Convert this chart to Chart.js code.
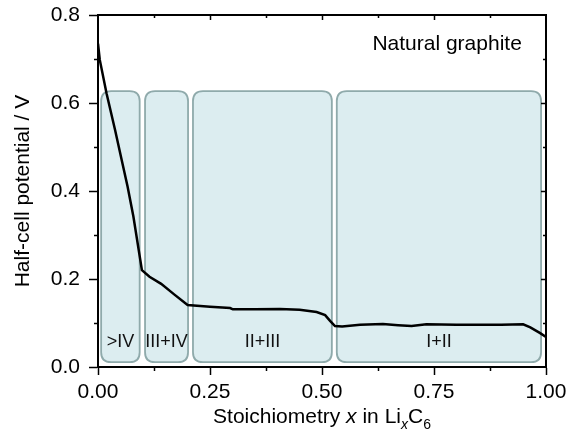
<!DOCTYPE html>
<html>
<head>
<meta charset="utf-8">
<script src="https://cdn.jsdelivr.net/npm/chart.js@4"></script>
<style>
  html, body { margin: 0; padding: 0; background: #ffffff; }
  #wrap { width: 568px; height: 433px; position: relative; }
</style>
</head>
<body>
<div id="wrap"><canvas id="c" width="568" height="433"></canvas></div>
<script>
// ---- data ----
const stoichX = [0, 0.004, 0.019, 0.038, 0.053, 0.066, 0.079, 0.098, 0.115, 0.141, 0.17, 0.2, 0.25, 0.295, 0.301, 0.35, 0.406, 0.45, 0.488, 0.507, 0.518, 0.529, 0.545, 0.585, 0.636, 0.67, 0.7, 0.733, 0.8, 0.85, 0.9, 0.949, 0.965, 0.987, 1.0];
const potentialV = [0.735, 0.698, 0.622, 0.539, 0.47, 0.41, 0.342, 0.22, 0.205, 0.189, 0.165, 0.141, 0.137, 0.134, 0.131, 0.131, 0.132, 0.130, 0.125, 0.118, 0.105, 0.093, 0.092, 0.096, 0.098, 0.095, 0.093, 0.097, 0.096, 0.096, 0.096, 0.097, 0.090, 0.077, 0.068];

const regionLabels = [">IV", "III+IV", "II+III", "I+II"];
const regionStart = [0.007, 0.105, 0.212, 0.533];
const regionEnd = [0.093, 0.201, 0.522, 0.989];
const regionTop = 0.627;
const regionBottom = 0.011;
const regionLabelY = 0.056;

const xTicks = [0, 0.25, 0.5, 0.75, 1.0];
const xMinorTicks = [0.125, 0.375, 0.625, 0.875];
const yTicks = [0, 0.2, 0.4, 0.6, 0.8];
const yMinorTicks = [0.1, 0.3, 0.5, 0.7];

const annotationText = "Natural graphite";
const annotationX = 0.946;
const annotationY = 0.72;

const FONT = '"Liberation Sans", Arial, Helvetica, sans-serif';

function roundRect(ctx, x, y, w, h, r) {
  ctx.beginPath();
  ctx.moveTo(x + r, y);
  ctx.lineTo(x + w - r, y);
  ctx.quadraticCurveTo(x + w, y, x + w, y + r);
  ctx.lineTo(x + w, y + h - r);
  ctx.quadraticCurveTo(x + w, y + h, x + w - r, y + h);
  ctx.lineTo(x + r, y + h);
  ctx.quadraticCurveTo(x, y + h, x, y + h - r);
  ctx.lineTo(x, y + r);
  ctx.quadraticCurveTo(x, y, x + r, y);
  ctx.closePath();
}

const decorPlugin = {
  id: 'decor',
  beforeDatasetsDraw(chart) {
    const ctx = chart.ctx;
    const xs = chart.scales.x, ys = chart.scales.y;
    ctx.save();
    for (let i = 0; i < regionLabels.length; i++) {
      const x0 = xs.getPixelForValue(regionStart[i]);
      const x1 = xs.getPixelForValue(regionEnd[i]);
      const y0 = ys.getPixelForValue(regionTop);
      const y1 = ys.getPixelForValue(regionBottom);
      roundRect(ctx, x0, y0, x1 - x0, y1 - y0, 10);
      ctx.fillStyle = '#dcedf0';
      ctx.fill();
      ctx.lineWidth = 1.8;
      ctx.strokeStyle = '#8faaab';
      ctx.stroke();
      ctx.fillStyle = '#111111';
      ctx.font = '18px ' + FONT;
      ctx.textAlign = 'center';
      ctx.textBaseline = 'middle';
      ctx.fillText(regionLabels[i], (x0 + x1) / 2, ys.getPixelForValue(regionLabelY));
    }
    ctx.fillStyle = '#000000';
    ctx.font = '21px ' + FONT;
    ctx.textAlign = 'right';
    ctx.textBaseline = 'alphabetic';
    ctx.fillText(annotationText, xs.getPixelForValue(annotationX), ys.getPixelForValue(annotationY));
    ctx.restore();
  },
  afterDraw(chart) {
    const ctx = chart.ctx;
    const xs = chart.scales.x, ys = chart.scales.y;
    const a = chart.chartArea;
    ctx.save();
    ctx.strokeStyle = '#000000';
    ctx.lineWidth = 2;
    ctx.beginPath();
    ctx.moveTo(a.left, a.top); ctx.lineTo(a.right, a.top); ctx.lineTo(a.right, a.bottom);
    ctx.stroke();
    ctx.lineWidth = 1.5;
    for (const v of xMinorTicks) {
      const p = Math.round(xs.getPixelForValue(v)) + 0.5;
      ctx.beginPath(); ctx.moveTo(p, a.bottom); ctx.lineTo(p, a.bottom + 4); ctx.stroke();
    }
    for (const v of yMinorTicks) {
      const p = Math.round(ys.getPixelForValue(v)) + 0.5;
      ctx.beginPath(); ctx.moveTo(a.left, p); ctx.lineTo(a.left - 4, p); ctx.stroke();
    }
    for (const v of xTicks.concat(xMinorTicks)) {
      if (v === 0 || v === 1) continue;
      const p = Math.round(xs.getPixelForValue(v)) + 0.5;
      const len = xTicks.includes(v) ? 5 : 3;
      ctx.beginPath(); ctx.moveTo(p, a.top); ctx.lineTo(p, a.top + len); ctx.stroke();
    }
    for (const v of yTicks.concat(yMinorTicks)) {
      if (v === 0 || v === 0.8) continue;
      const p = Math.round(ys.getPixelForValue(v)) + 0.5;
      const len = yTicks.includes(v) ? 5 : 3;
      ctx.beginPath(); ctx.moveTo(a.right, p); ctx.lineTo(a.right - len, p); ctx.stroke();
    }
    ctx.fillStyle = '#000000';
    ctx.textBaseline = 'alphabetic';
    ctx.save();
    ctx.translate(29, (a.top + a.bottom) / 2);
    ctx.rotate(-Math.PI / 2);
    ctx.font = '21px ' + FONT;
    ctx.textAlign = 'center';
    ctx.fillText('Half-cell potential / V', 0, 0);
    ctx.restore();
    const parts = [
      { t: 'Stoichiometry ', f: '21px ' + FONT, dy: 0 },
      { t: 'x', f: 'italic 21px ' + FONT, dy: 0 },
      { t: ' in Li', f: '21px ' + FONT, dy: 0 },
      { t: 'x', f: 'italic 14px ' + FONT, dy: 6 },
      { t: 'C', f: '21px ' + FONT, dy: 0 },
      { t: '6', f: '14px ' + FONT, dy: 6 }
    ];
    let total = 0;
    for (const p of parts) { ctx.font = p.f; total += ctx.measureText(p.t).width; }
    let x = (a.left + a.right) / 2 - total / 2;
    const base = 423;
    ctx.textAlign = 'left';
    for (const p of parts) {
      ctx.font = p.f;
      ctx.fillText(p.t, x, base + p.dy);
      x += ctx.measureText(p.t).width;
    }
    ctx.restore();
  }
};

const points = stoichX.map((x, i) => ({ x: x, y: potentialV[i] }));

new Chart(document.getElementById('c'), {
  type: 'line',
  data: {
    datasets: [{
      data: points,
      borderColor: '#000000',
      borderWidth: 2.5,
      pointRadius: 0,
      tension: 0,
      fill: false
    }]
  },
  options: {
    responsive: false,
    animation: false,
    devicePixelRatio: 1,
    layout: { padding: { left: 0, right: 22, top: 15, bottom: 0 } },
    plugins: { legend: { display: false }, tooltip: { enabled: false } },
    scales: {
      x: {
        type: 'linear',
        min: 0, max: 1,
        afterBuildTicks: (s) => { s.ticks = xTicks.map(v => ({ value: v })); },
        afterFit: (s) => { s.height = 66; s.paddingLeft = 0; s.paddingRight = 0; },
        ticks: {
          callback: (v) => Number(v).toFixed(2),
          font: { family: FONT, size: 21 },
          color: '#000000',
          padding: 5,
          maxRotation: 0,
          autoSkip: false
        },
        grid: { drawOnChartArea: false, drawTicks: true, tickLength: 8, tickColor: '#000000', tickWidth: 1.5 },
        border: { color: '#000000', width: 2 }
      },
      y: {
        min: 0, max: 0.8,
        afterBuildTicks: (s) => { s.ticks = yTicks.map(v => ({ value: v })); },
        afterFit: (s) => { s.width = 98; s.paddingTop = 0; s.paddingBottom = 0; },
        ticks: {
          callback: (v) => Number(v).toFixed(1),
          font: { family: FONT, size: 21 },
          color: '#000000',
          padding: 9
        },
        grid: { drawOnChartArea: false, drawTicks: true, tickLength: 9, tickColor: '#000000', tickWidth: 1.5 },
        border: { color: '#000000', width: 2 }
      }
    }
  },
  plugins: [decorPlugin]
});
</script>
</body>
</html>
